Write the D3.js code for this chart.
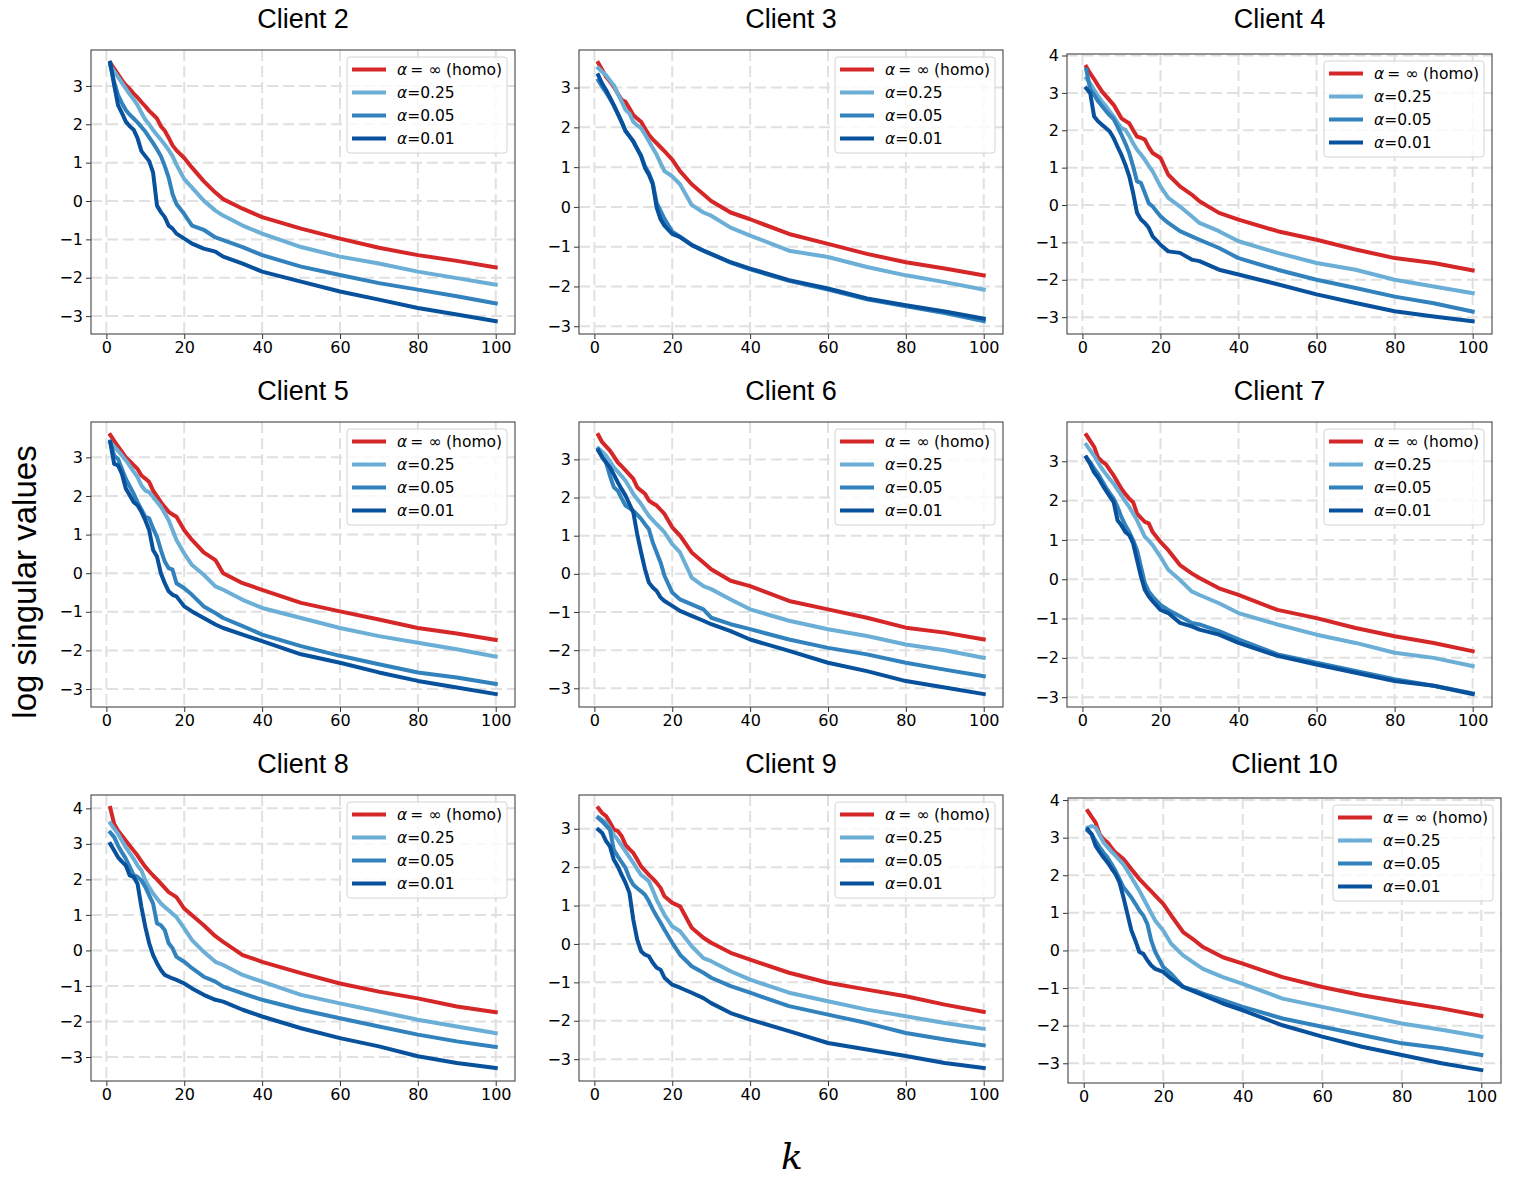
<!DOCTYPE html>
<html>
<head>
<meta charset="utf-8">
<script src="https://cdn.jsdelivr.net/npm/d3@7"></script>
<style>
  body { margin: 0; background: #fff; }
  svg { display: block; }
</style>
</head>
<body>
<svg id="chart" width="1522" height="1186"></svg>
<script>
const kValues = [1, 2, 3, 4, 5, 6, 7, 8, 9, 10, 11, 12, 13, 14, 15, 16, 17, 18, 20, 22, 25, 28, 30, 35, 40, 50, 60, 70, 80, 90, 100]

const clientNames = ['Client 2', 'Client 3', 'Client 4', 'Client 5', 'Client 6', 'Client 7', 'Client 8', 'Client 9', 'Client 10']
const seriesLabels = ['= ∞ (homo)', '=0.25', '=0.05', '=0.01']
const xTicks = [0, 20, 40, 60, 80, 100]

const c2Homo = [3.6, 3.45, 3.3, 3.15, 3.02, 2.92, 2.8, 2.7, 2.58, 2.47, 2.35, 2.25, 2.15, 1.95, 1.83, 1.65, 1.45, 1.32, 1.12, 0.87, 0.52, 0.22, 0.05, -0.2, -0.42, -0.72, -0.98, -1.22, -1.41, -1.56, -1.73]
const c2A025 = [3.53, 3.38, 3.23, 3.08, 2.93, 2.78, 2.65, 2.5, 2.3, 2.12, 2.0, 1.85, 1.72, 1.6, 1.47, 1.33, 1.17, 0.95, 0.57, 0.35, 0.01, -0.25, -0.38, -0.64, -0.85, -1.2, -1.45, -1.63, -1.84, -2.01, -2.18]
const c2A005 = [3.55, 3.1, 2.76, 2.55, 2.37, 2.25, 2.15, 2.05, 1.93, 1.81, 1.66, 1.51, 1.35, 1.17, 0.91, 0.61, 0.18, -0.08, -0.34, -0.64, -0.75, -0.95, -1.02, -1.2, -1.41, -1.71, -1.93, -2.14, -2.31, -2.48, -2.67]
const c2A001 = [3.6, 3.02, 2.5, 2.29, 2.07, 1.95, 1.86, 1.64, 1.3, 1.17, 1.04, 0.74, -0.12, -0.29, -0.42, -0.64, -0.72, -0.85, -0.98, -1.11, -1.24, -1.32, -1.45, -1.63, -1.84, -2.1, -2.36, -2.57, -2.79, -2.96, -3.13]

const c3Homo = [3.62, 3.45, 3.27, 3.15, 3.02, 2.85, 2.69, 2.64, 2.48, 2.31, 2.22, 2.14, 1.97, 1.81, 1.7, 1.6, 1.5, 1.4, 1.19, 0.9, 0.57, 0.32, 0.15, -0.14, -0.31, -0.68, -0.93, -1.18, -1.39, -1.55, -1.72]
const c3A025 = [3.49, 3.4, 3.31, 3.18, 3.06, 2.85, 2.65, 2.44, 2.35, 2.14, 2.05, 1.98, 1.82, 1.65, 1.48, 1.31, 1.1, 0.9, 0.77, 0.57, 0.05, -0.14, -0.22, -0.52, -0.72, -1.1, -1.26, -1.51, -1.72, -1.89, -2.08]
const c3A005 = [3.18, 3.02, 2.88, 2.72, 2.54, 2.34, 2.13, 1.92, 1.78, 1.64, 1.46, 1.29, 1.02, 0.85, 0.6, 0.1, -0.1, -0.3, -0.62, -0.75, -0.95, -1.1, -1.19, -1.4, -1.57, -1.86, -2.08, -2.32, -2.5, -2.67, -2.87]
const c3A001 = [3.31, 3.1, 2.94, 2.75, 2.56, 2.35, 2.14, 1.9, 1.78, 1.65, 1.46, 1.27, 0.98, 0.81, 0.57, -0.02, -0.31, -0.47, -0.68, -0.76, -0.96, -1.1, -1.18, -1.39, -1.55, -1.84, -2.05, -2.3, -2.47, -2.63, -2.81]

const c4Homo = [3.7, 3.52, 3.37, 3.2, 3.04, 2.92, 2.8, 2.68, 2.5, 2.32, 2.25, 2.19, 2.0, 1.83, 1.8, 1.75, 1.55, 1.39, 1.26, 0.81, 0.5, 0.28, 0.1, -0.21, -0.39, -0.7, -0.93, -1.19, -1.42, -1.55, -1.75]
const c4A025 = [3.39, 3.25, 3.08, 2.92, 2.77, 2.65, 2.5, 2.37, 2.2, 2.06, 2.01, 1.85, 1.65, 1.48, 1.35, 1.21, 1.05, 0.9, 0.5, 0.19, -0.04, -0.3, -0.48, -0.7, -0.97, -1.28, -1.55, -1.73, -2.0, -2.18, -2.36]
const c4A005 = [3.62, 3.1, 2.95, 2.78, 2.65, 2.52, 2.4, 2.3, 2.1, 1.88, 1.65, 1.39, 1.03, 0.63, 0.59, 0.32, 0.05, -0.04, -0.3, -0.48, -0.7, -0.84, -0.93, -1.15, -1.42, -1.73, -2.0, -2.22, -2.45, -2.63, -2.85]
const c4A001 = [3.12, 2.99, 2.37, 2.24, 2.15, 2.06, 1.97, 1.79, 1.56, 1.34, 1.08, 0.77, 0.32, -0.21, -0.39, -0.48, -0.61, -0.84, -1.06, -1.24, -1.28, -1.46, -1.5, -1.73, -1.86, -2.12, -2.39, -2.62, -2.84, -2.98, -3.11]

const c5Homo = [3.58, 3.43, 3.28, 3.14, 3.0, 2.9, 2.8, 2.7, 2.53, 2.45, 2.36, 2.14, 1.99, 1.84, 1.71, 1.59, 1.52, 1.46, 1.11, 0.86, 0.54, 0.34, 0.0, -0.26, -0.43, -0.77, -0.99, -1.2, -1.42, -1.56, -1.73]
const c5A025 = [3.39, 3.28, 3.17, 3.05, 2.92, 2.78, 2.63, 2.49, 2.27, 2.14, 2.1, 1.97, 1.85, 1.72, 1.55, 1.37, 1.12, 0.86, 0.51, 0.21, -0.04, -0.34, -0.43, -0.69, -0.9, -1.16, -1.42, -1.63, -1.8, -1.97, -2.16]
const c5A005 = [3.41, 3.04, 2.96, 2.7, 2.44, 2.25, 2.06, 1.84, 1.65, 1.46, 1.42, 1.16, 0.94, 0.6, 0.3, 0.13, 0.09, -0.26, -0.39, -0.56, -0.86, -1.03, -1.16, -1.37, -1.59, -1.89, -2.14, -2.36, -2.57, -2.7, -2.87]
const c5A001 = [3.39, 2.83, 2.79, 2.57, 2.19, 2.02, 1.84, 1.76, 1.59, 1.37, 1.11, 0.6, 0.43, 0.0, -0.26, -0.47, -0.56, -0.6, -0.86, -0.99, -1.16, -1.33, -1.42, -1.59, -1.76, -2.1, -2.32, -2.57, -2.79, -2.96, -3.13]

const c6Homo = [3.64, 3.45, 3.34, 3.23, 3.08, 2.92, 2.82, 2.71, 2.6, 2.49, 2.27, 2.18, 2.1, 1.92, 1.85, 1.79, 1.68, 1.57, 1.22, 1.0, 0.56, 0.3, 0.12, -0.18, -0.32, -0.71, -0.93, -1.15, -1.41, -1.54, -1.72]
const c6A025 = [3.29, 3.2, 3.1, 2.95, 2.79, 2.68, 2.56, 2.44, 2.27, 2.09, 1.96, 1.83, 1.67, 1.52, 1.41, 1.3, 1.2, 1.09, 0.78, 0.56, -0.1, -0.32, -0.4, -0.67, -0.93, -1.23, -1.45, -1.63, -1.85, -2.0, -2.2]
const c6A005 = [3.26, 3.06, 2.92, 2.57, 2.27, 2.18, 1.98, 1.79, 1.72, 1.65, 1.55, 1.44, 1.3, 1.17, 0.82, 0.56, 0.3, -0.05, -0.49, -0.67, -0.8, -0.93, -1.15, -1.32, -1.45, -1.72, -1.94, -2.11, -2.33, -2.51, -2.68]
const c6A001 = [3.23, 3.06, 2.92, 2.79, 2.6, 2.4, 2.22, 2.05, 1.83, 1.61, 1.04, 0.56, 0.12, -0.23, -0.36, -0.45, -0.62, -0.71, -0.84, -0.97, -1.1, -1.23, -1.32, -1.5, -1.72, -2.02, -2.33, -2.55, -2.81, -2.98, -3.15]

const c7Homo = [3.67, 3.52, 3.37, 3.1, 3.0, 2.93, 2.78, 2.64, 2.47, 2.3, 2.17, 2.05, 1.96, 1.67, 1.56, 1.46, 1.42, 1.2, 0.95, 0.74, 0.36, 0.15, 0.03, -0.23, -0.4, -0.78, -0.99, -1.24, -1.45, -1.62, -1.83]
const c7A025 = [3.42, 3.28, 3.14, 2.97, 2.81, 2.68, 2.55, 2.43, 2.28, 2.13, 1.98, 1.84, 1.67, 1.5, 1.29, 1.08, 0.98, 0.87, 0.57, 0.24, -0.02, -0.31, -0.4, -0.61, -0.86, -1.15, -1.41, -1.62, -1.87, -2.0, -2.21]
const c7A005 = [3.1, 2.97, 2.82, 2.68, 2.51, 2.34, 2.19, 2.05, 1.84, 1.58, 1.37, 1.2, 0.99, 0.74, 0.32, -0.1, -0.31, -0.44, -0.65, -0.78, -0.94, -1.11, -1.15, -1.32, -1.53, -1.91, -2.12, -2.33, -2.54, -2.71, -2.9]
const c7A001 = [3.1, 2.93, 2.72, 2.59, 2.42, 2.26, 2.11, 1.96, 1.5, 1.37, 1.2, 1.12, 0.91, 0.49, 0.07, -0.27, -0.44, -0.56, -0.78, -0.86, -1.11, -1.2, -1.28, -1.41, -1.62, -1.95, -2.17, -2.38, -2.59, -2.71, -2.92]

const c8Homo = [4.01, 3.56, 3.37, 3.23, 3.09, 2.95, 2.81, 2.67, 2.51, 2.35, 2.23, 2.11, 2.0, 1.88, 1.76, 1.64, 1.57, 1.5, 1.18, 0.99, 0.71, 0.4, 0.24, -0.13, -0.32, -0.64, -0.93, -1.16, -1.35, -1.58, -1.74]
const c8A025 = [3.58, 3.43, 3.28, 3.09, 2.9, 2.74, 2.58, 2.39, 2.25, 1.97, 1.78, 1.6, 1.46, 1.32, 1.22, 1.13, 1.03, 0.94, 0.62, 0.29, -0.04, -0.32, -0.41, -0.69, -0.88, -1.25, -1.49, -1.72, -1.95, -2.14, -2.33]
const c8A005 = [3.32, 3.19, 2.95, 2.76, 2.58, 2.35, 2.12, 2.07, 1.97, 1.79, 1.55, 1.32, 0.76, 0.71, 0.57, 0.2, 0.06, -0.18, -0.32, -0.5, -0.74, -0.88, -1.02, -1.21, -1.39, -1.67, -1.91, -2.14, -2.37, -2.56, -2.72]
const c8A001 = [3.0, 2.81, 2.62, 2.5, 2.39, 2.11, 2.07, 1.88, 1.22, 0.66, 0.2, -0.13, -0.36, -0.55, -0.69, -0.74, -0.79, -0.83, -0.93, -1.07, -1.25, -1.39, -1.44, -1.67, -1.86, -2.19, -2.47, -2.7, -2.98, -3.17, -3.31]

const c9Homo = [3.54, 3.41, 3.33, 3.16, 2.98, 2.94, 2.81, 2.58, 2.47, 2.37, 2.2, 2.02, 1.91, 1.8, 1.7, 1.59, 1.46, 1.24, 1.07, 0.98, 0.42, 0.16, 0.03, -0.23, -0.41, -0.75, -1.01, -1.19, -1.36, -1.58, -1.77]
const c9A025 = [3.3, 3.23, 3.16, 3.0, 2.84, 2.71, 2.56, 2.41, 2.26, 2.11, 1.95, 1.8, 1.72, 1.63, 1.4, 1.15, 0.95, 0.76, 0.46, 0.33, -0.06, -0.37, -0.45, -0.71, -0.93, -1.27, -1.49, -1.71, -1.88, -2.06, -2.21]
const c9A005 = [3.28, 3.19, 3.08, 2.97, 2.45, 2.28, 2.13, 1.98, 1.72, 1.54, 1.45, 1.37, 1.28, 1.11, 0.9, 0.72, 0.55, 0.37, 0.03, -0.28, -0.58, -0.75, -0.88, -1.1, -1.27, -1.62, -1.84, -2.06, -2.32, -2.49, -2.64]
const c9A001 = [2.98, 2.89, 2.68, 2.54, 2.19, 2.02, 1.8, 1.59, 1.33, 0.63, 0.11, -0.19, -0.28, -0.32, -0.49, -0.62, -0.67, -0.88, -1.06, -1.14, -1.27, -1.41, -1.54, -1.8, -1.97, -2.27, -2.58, -2.75, -2.92, -3.1, -3.23]

const c10Homo = [3.71, 3.55, 3.4, 3.09, 2.96, 2.87, 2.73, 2.6, 2.52, 2.43, 2.3, 2.16, 2.03, 1.9, 1.79, 1.68, 1.57, 1.46, 1.24, 0.93, 0.49, 0.26, 0.09, -0.18, -0.35, -0.71, -0.97, -1.19, -1.37, -1.54, -1.74]
const c10A025 = [3.27, 3.31, 3.27, 3.07, 2.87, 2.75, 2.63, 2.52, 2.4, 2.29, 2.12, 1.94, 1.77, 1.59, 1.39, 1.19, 0.99, 0.79, 0.53, 0.18, -0.13, -0.35, -0.49, -0.71, -0.89, -1.28, -1.5, -1.72, -1.94, -2.11, -2.29]
const c10A005 = [3.18, 3.09, 2.91, 2.75, 2.6, 2.47, 2.3, 2.12, 1.9, 1.68, 1.55, 1.41, 1.24, 1.06, 0.93, 0.71, 0.26, -0.04, -0.44, -0.62, -0.97, -1.06, -1.15, -1.32, -1.5, -1.81, -2.03, -2.25, -2.47, -2.6, -2.78]
const c10A001 = [3.22, 3.09, 2.78, 2.62, 2.47, 2.34, 2.18, 2.03, 1.81, 1.41, 0.97, 0.53, 0.26, -0.04, -0.09, -0.26, -0.4, -0.49, -0.57, -0.75, -0.97, -1.1, -1.19, -1.41, -1.59, -1.99, -2.29, -2.56, -2.78, -3.0, -3.18]

const panelSeries = [
  [c2Homo, c2A025, c2A005, c2A001],
  [c3Homo, c3A025, c3A005, c3A001],
  [c4Homo, c4A025, c4A005, c4A001],
  [c5Homo, c5A025, c5A005, c5A001],
  [c6Homo, c6A025, c6A005, c6A001],
  [c7Homo, c7A025, c7A005, c7A001],
  [c8Homo, c8A025, c8A005, c8A001],
  [c9Homo, c9A025, c9A005, c9A001],
  [c10Homo, c10A025, c10A005, c10A001]
]

// axes boxes
const boxes = [
  { x: 91, y: 50, w: 424, h: 284 },
  { x: 579, y: 50, w: 424, h: 284 },
  { x: 1067, y: 54, w: 425, h: 280 },
  { x: 91, y: 422, w: 424, h: 285 },
  { x: 579, y: 422, w: 424, h: 285 },
  { x: 1067, y: 422, w: 425, h: 285 },
  { x: 91, y: 795, w: 424, h: 286 },
  { x: 579, y: 795, w: 424, h: 286 },
  { x: 1068, y: 798, w: 433, h: 285 }
]
const titleBaselines = [28, 400, 773]
const colors = ['#d62728', '#6baed6', '#3182bd', '#08519c']
const tickFont = 'DejaVu Sans, sans-serif'
const lineWidth = 4

const svg = d3.select('#chart')

panelSeries.forEach((series, i) => {
  const box = boxes[i]
  const values = series.flat()
  const lo = d3.min(values)
  const hi = d3.max(values)
  const pad = (hi - lo) * 0.05

  const x = d3.scaleLinear()
    .domain([1 - 4.95, 100 + 4.95])
    .range([box.x, box.x + box.w])

  const y = d3.scaleLinear()
    .domain([lo - pad, hi + pad])
    .range([box.y + box.h, box.y])

  const yTicks = d3.range(Math.ceil(lo - pad), Math.floor(hi + pad) + 1)

  const g = svg.append('g')

  // dashed grid
  const grid = g.append('g')
    .attr('stroke', '#e0e0e0')
    .attr('stroke-width', 2)
    .attr('stroke-dasharray', '11,5')
  grid.selectAll('.gx').data(xTicks).join('line')
    .attr('x1', d => x(d)).attr('x2', d => x(d))
    .attr('y1', box.y).attr('y2', box.y + box.h)
  grid.selectAll('.gy').data(yTicks).join('line')
    .attr('y1', d => y(d)).attr('y2', d => y(d))
    .attr('x1', box.x).attr('x2', box.x + box.w)

  // curves
  const clipId = `clip${i}`
  g.append('clipPath').attr('id', clipId)
    .append('rect')
    .attr('x', box.x).attr('y', box.y)
    .attr('width', box.w).attr('height', box.h)

  const line = d3.line()
    .x((d, j) => x(kValues[j]))
    .y(d => y(d))

  g.append('g')
    .attr('clip-path', `url(#${clipId})`)
    .selectAll('path')
    .data(series)
    .join('path')
    .attr('d', line)
    .attr('fill', 'none')
    .attr('stroke', (d, j) => colors[j])
    .attr('stroke-width', lineWidth)
    .attr('stroke-linejoin', 'round')
    .attr('stroke-linecap', 'square')

  // axes
  const xAxis = g.append('g')
    .attr('transform', `translate(0, ${box.y + box.h})`)
    .call(d3.axisBottom(x).tickValues(xTicks).tickSize(5).tickPadding(3))
  const yAxis = g.append('g')
    .attr('transform', `translate(${box.x}, 0)`)
    .call(d3.axisLeft(y).tickValues(yTicks).tickSize(5).tickPadding(3))

  for (const axis of [xAxis, yAxis]) {
    axis.select('.domain').remove()
    axis.selectAll('line').attr('stroke', '#333').attr('stroke-width', 1)
    axis.selectAll('text')
      .attr('fill', '#000')
      .style('font-family', tickFont)
      .style('font-size', '16px')
  }

  // frame
  g.append('rect')
    .attr('x', box.x).attr('y', box.y)
    .attr('width', box.w).attr('height', box.h)
    .attr('fill', 'none')
    .attr('stroke', '#444')
    .attr('stroke-width', 1.1)

  // title
  g.append('text')
    .attr('x', box.x + box.w / 2)
    .attr('y', titleBaselines[Math.floor(i / 3)])
    .attr('text-anchor', 'middle')
    .style('font-family', 'Liberation Sans, Arial, sans-serif')
    .style('font-size', '27px')
    .text(clientNames[i])

  // legend
  const legW = 160
  const legend = g.append('g')
    .attr('transform', `translate(${box.x + box.w - 8 - legW}, ${box.y + 7})`)
  legend.append('rect')
    .attr('width', legW).attr('height', 96)
    .attr('rx', 3)
    .attr('fill', '#fff').attr('fill-opacity', 0.8)
    .attr('stroke', '#d4d4d4')

  const rows = legend.selectAll('.row')
    .data(seriesLabels)
    .join('g')
    .attr('transform', (d, j) => `translate(0, ${12.6 + 23 * j})`)
  rows.append('line')
    .attr('x1', 5).attr('x2', 39)
    .attr('stroke', (d, j) => colors[j])
    .attr('stroke-width', lineWidth)
  const label = rows.append('text')
    .attr('x', 50).attr('y', 5.6)
    .style('font-family', tickFont)
    .style('font-size', '15.5px')
  label.append('tspan').style('font-style', 'italic').text('α')
  label.append('tspan').text(d => d.startsWith('= ') ? '\u2009' + d : d)
})

// shared axis labels
svg.append('text')
  .attr('transform', 'translate(36, 582) rotate(-90)')
  .attr('text-anchor', 'middle')
  .style('font-family', 'Liberation Sans, Arial, sans-serif')
  .style('font-size', '33px')
  .text('log singular values')

svg.append('text')
  .attr('x', 792).attr('y', 1169)
  .attr('text-anchor', 'middle')
  .style('font-family', 'DejaVu Serif, serif')
  .style('font-style', 'italic')
  .style('font-size', '36px')
  .text('k')
</script>
</body>
</html>
